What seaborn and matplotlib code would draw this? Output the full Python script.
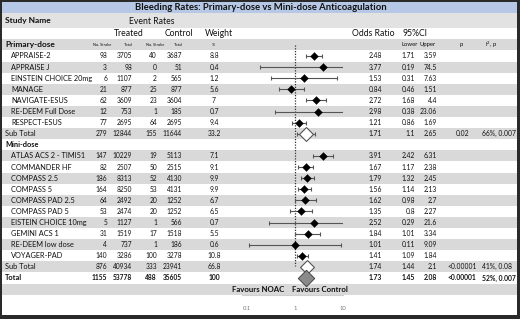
import numpy as np
import pandas as pd
import matplotlib
matplotlib.use("Agg")
import matplotlib.pyplot as plt
import seaborn as sns
from matplotlib.patches import Rectangle

sns.set_theme(style="white")
plt.rcParams["font.family"] = ["Lato", "DejaVu Sans"]

# ---------------- data ----------------
title = "Bleeding Rates: Primary-dose vs Mini-dose Anticoagulation"
labels = ["APPRAISE-2", "APPRAISE J", "EINSTEIN CHOICE 20mg", "MANAGE", "NAVIGATE-ESUS",
          "RE-DEEM Full Dose", "RESPECT-ESUS", "Sub Total", "Mini-dose",
          "ATLAS ACS 2 - TIMI51", "COMMANDER HF", "COMPASS 2.5", "COMPASS 5",
          "COMPASS PAD 2.5", "COMPASS PAD 5", "EISTEIN CHOICE 10mg", "GEMINI ACS 1",
          "RE-DEEM low dose", "VOYAGER-PAD", "Sub Total", "Total"]
kinds = ["study"] * 7 + ["sub", "header"] + ["study"] * 10 + ["sub", "total"]
t_events = [98, 3, 6, 21, 62, 12, 77, 279, None, 147, 82, 186, 164, 64, 53, 5, 31, 4, 140, 876, 1155]
t_total = [3705, 98, 1107, 877, 3609, 753, 2695, 12844, None, 10229, 2507, 8313, 8250, 2492, 2474,
           1127, 1519, 737, 3286, 40934, 53778]
c_events = [40, 0, 2, 25, 23, 1, 64, 155, None, 19, 50, 52, 53, 20, 20, 1, 17, 1, 100, 333, 488]
c_total = [3687, 51, 565, 877, 3604, 185, 2695, 11644, None, 5113, 2515, 4130, 4131, 1252, 1252,
           566, 1518, 186, 3278, 23941, 35605]
weight = [8.8, 0.4, 1.2, 5.6, 7, 0.7, 9.4, 33.2, None, 7.1, 9.1, 9.9, 9.9, 6.7, 6.5, 0.7, 5.5,
          0.6, 10.8, 66.8, 100]
odds = [2.48, 3.77, 1.53, 0.84, 2.72, 2.98, 1.21, 1.71, None, 3.91, 1.67, 1.79, 1.56, 1.62, 1.35,
        2.52, 1.84, 1.01, 1.41, 1.74, 1.73]
lower = [1.71, 0.19, 0.31, 0.46, 1.68, 0.38, 0.86, 1.1, None, 2.42, 1.17, 1.32, 1.14, 0.98, 0.8,
         0.29, 1.01, 0.11, 1.09, 1.44, 1.45]
upper = [3.59, 74.5, 7.63, 1.51, 4.4, 23.06, 1.69, 2.65, None, 6.31, 2.38, 2.45, 2.13, 2.7, 2.27,
         21.6, 3.34, 9.09, 1.84, 2.1, 2.08]
p_vals = {7: "0.02", 19: "<0.00001", 20: "<0.00001"}
i2_vals = {7: "66%, 0.007", 19: "41%, 0.08", 20: "52%, 0.007"}
axis_ticks = [0.1, 1, 10]
axis_ticklabels = ["0.1", "1", "10"]

W, H = 520, 319
fig = plt.figure(figsize=(W / 100, H / 100), dpi=100)
fig.patch.set_facecolor("white")

# background / table axes in pixel coordinates
bg = fig.add_axes([0, 0, 1, 1])
bg.set_xlim(0, W)
bg.set_ylim(H, 0)
bg.axis("off")


def ry(k):
    return 56 + 11.1 * k


GRAY = "#d9d9d9"
# frame
bg.add_patch(Rectangle((0, 0), W, H, facecolor="#2a2a2a", edgecolor="none", zorder=0))
bg.add_patch(Rectangle((2, 2), W - 5, H - 6, facecolor="white", edgecolor="none", zorder=0.5))
# title band
bg.add_patch(Rectangle((2, 2), W - 5, 11, facecolor="#b6c8e6", edgecolor="none", zorder=1))
# study name band
bg.add_patch(Rectangle((2, 13), W - 5, ry(-2) - 5.55 - 13, facecolor="#e2e2e2", edgecolor="none", zorder=1))
for k in range(-1, 22):
    if k % 2 != 0:
        bg.add_patch(Rectangle((2, ry(k) - 5.55), W - 5, 11.1, facecolor=GRAY, edgecolor="none", zorder=1))

TXT = "#111111"
bg.text(261, 8, title, ha="center", va="center", fontsize=6.8, fontweight="bold", color=TXT, zorder=3)
bg.text(5, 21, "Study Name", ha="left", va="center", fontsize=6, fontweight="bold", color=TXT, zorder=3)
bg.text(152, 21, "Event Rates", ha="center", va="center", fontsize=6.2, color=TXT, zorder=3)
for x, s in [(129, "Treated"), (179, "Control"), (219, "Weight"), (373, "Odds Ratio"), (415, "95%CI")]:
    bg.text(x, ry(-2), s, ha="center", va="center", fontsize=6.2, color=TXT, zorder=3)
bg.text(5, ry(-1), "Primary-dose", ha="left", va="center", fontsize=6, fontweight="bold", color=TXT, zorder=3)
for x, s in [(102, "No. Stroke"), (128, "Total"), (155, "No. Stroke"), (178, "Total"), (213, "%")]:
    bg.text(x, ry(-1), s, ha="center", va="center", fontsize=2.8, color=TXT, zorder=3)
for x, s in [(410, "Lower"), (428, "Upper"), (461, "p"), (491, "I$^2$, p")]:
    bg.text(x, ry(-1), s, ha="center", va="center", fontsize=4.3, color=TXT, zorder=3)

for i, lab in enumerate(labels):
    y = ry(i)
    kd = kinds[i]
    bold = "bold" if kd in ("header", "total") else "normal"
    xl = 11 if kd == "study" else 5
    bg.text(xl, y, lab, ha="left", va="center", fontsize=5.3, fontweight=bold, color=TXT, zorder=3)
    if kd == "header":
        continue
    for x, v in [(107, t_events[i]), (132, t_total[i]), (157, c_events[i]), (182, c_total[i])]:
        bg.text(x, y, f"{v:g}", ha="right", va="center", fontsize=4.8, fontweight=bold, color=TXT, zorder=3)
    bg.text(214, y, f"{weight[i]:g}", ha="center", va="center", fontsize=4.9, fontweight=bold, color=TXT, zorder=3)
    bg.text(382, y, f"{odds[i]:g}", ha="right", va="center", fontsize=4.9, fontweight=bold, color=TXT, zorder=3)
    bg.text(415, y, f"{lower[i]:g}", ha="right", va="center", fontsize=4.9, fontweight=bold, color=TXT, zorder=3)
    bg.text(437, y, f"{upper[i]:g}", ha="right", va="center", fontsize=4.9, fontweight=bold, color=TXT, zorder=3)
    if i in p_vals:
        bg.text(462, y, p_vals[i], ha="center", va="center", fontsize=4.9, fontweight=bold, color=TXT, zorder=3)
    if i in i2_vals:
        bg.text(482, y, i2_vals[i], ha="left", va="center", fontsize=4.9, fontweight=bold, color=TXT, zorder=3)

bg.text(258, ry(21), "Favours NOAC", ha="center", va="center", fontsize=5.6, fontweight="bold", color=TXT, zorder=3)
bg.text(320, ry(21), "Favours Control", ha="center", va="center", fontsize=5.6, fontweight="bold", color=TXT, zorder=3)

# ---------------- forest axes ----------------
x_left, x_right, y_top, y_bot = 242, 343, 39, 295
ax = fig.add_axes([x_left / W, (H - y_bot) / H, (x_right - x_left) / W, (y_bot - y_top) / H])
ax.patch.set_alpha(0)
ax.set_xscale("log")
ax.set_xlim(0.0787, 10)
ax.set_ylim((y_bot - 56) / 11.1, (y_top - 56) / 11.1)

df = pd.DataFrame({"row": range(len(labels)), "kind": kinds, "or": odds, "lo": lower, "hi": upper})
df = df[df["kind"] != "header"].astype({"or": float, "lo": float, "hi": float})

ax.plot([1, 1], [-1.0, 18.9], color="#333333", lw=0.9, ls=(0, (1, 1.2)), zorder=1)

ax.errorbar(df["or"], df["row"], xerr=[df["or"] - df["lo"], df["hi"] - df["or"]], fmt="none",
            ecolor="#555555", elinewidth=0.8, capsize=1.3, capthick=0.8, zorder=2)

st = df[df["kind"] == "study"]
sns.scatterplot(data=st, x="or", y="row", marker="D", s=16, color="black", edgecolor="black",
                linewidth=0.3, ax=ax, zorder=4, legend=False)
sb = df[df["kind"] == "sub"]
sns.scatterplot(data=sb, x="or", y="row", marker="D", s=50, color="white", edgecolor="#555555",
                linewidth=0.8, ax=ax, zorder=4, legend=False)
tt = df[df["kind"] == "total"]
sns.scatterplot(data=tt, x="or", y="row", marker="D", s=70, color="#8a8a8a", edgecolor="#444444",
                linewidth=0.7, ax=ax, zorder=4, legend=False)

ax.set_xlabel("")
ax.set_ylabel("")
ax.set_yticks([])
ax.set_xticks(axis_ticks)
ax.set_xticklabels(axis_ticklabels)
ax.minorticks_off()
ax.tick_params(axis="x", length=0, pad=8, labelsize=4.2, labelcolor="#777777")
for sp in ["top", "left", "right"]:
    ax.spines[sp].set_visible(False)
ax.spines["bottom"].set_color("#cfcfcf")
ax.spines["bottom"].set_linewidth(0.8)

fig.savefig("out.png", dpi=100)
